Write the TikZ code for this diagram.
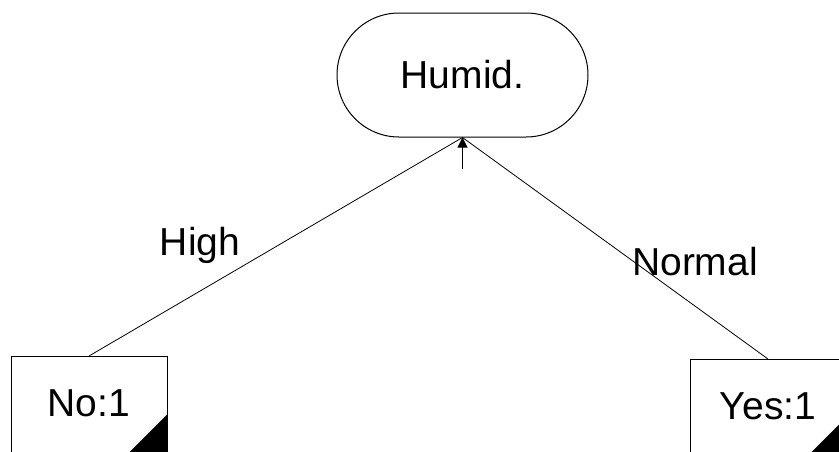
\documentclass[tikz,border=0pt]{standalone}
\usepackage{fontspec}
\setmainfont{Liberation Sans}
\usetikzlibrary{arrows.meta}
\usetikzlibrary{positioning}

\tikzset{
  treenode/.style={draw, line width=1pt, rounded corners=62pt,
    minimum width=251pt, minimum height=124pt, inner sep=0pt},
  leafnode/.style={draw, line width=1pt, minimum width=156pt,
    minimum height=120pt, inner sep=0pt, text depth=26pt, anchor=north,
    path picture={\fill (path picture bounding box.south east) -- ++(-62pt,0)
      -- ++(62pt,62pt) -- cycle;}},
  branch/.style={line width=0.8pt},
  bigtext/.style={font=\fontsize{39}{45}\selectfont}
}

\begin{document}
\begin{tikzpicture}[x=1pt, y=-1pt, bigtext]

\useasboundingbox (0,0) rectangle (839,451);

\node[treenode] (humid) at (462.5,75) {Humid.};

\node[leafnode] (no) at (89,356) {No:1};
\node[leafnode] (yes) at (768,359) {Yes:1};

\draw[branch] (humid.south) -- (no.north);
\draw[branch] (humid.south) -- (yes.north);

\node[anchor=base] (high) at (200,255) {High};
\node[anchor=base] (normal) at (695,275) {Normal};

% incoming arrow under the root
\coordinate[below=31pt of humid.south] (in);
\draw[line width=1pt, -{Triangle[width=10pt,length=10pt]}] (in) -- (humid.south);

\end{tikzpicture}
\end{document}
